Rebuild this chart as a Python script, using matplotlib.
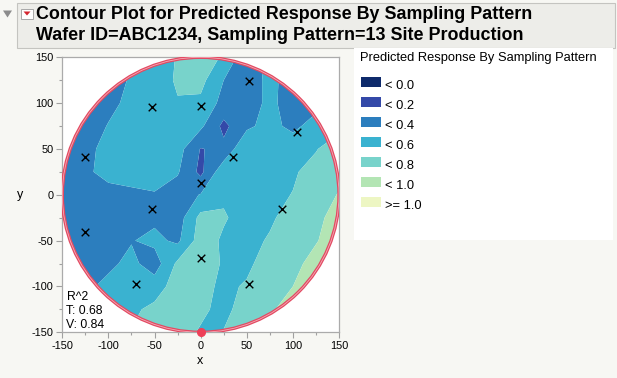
import numpy as np
import matplotlib
matplotlib.use("Agg")
import matplotlib.pyplot as plt
from matplotlib.patches import Circle, Rectangle, Polygon
from matplotlib.ticker import MultipleLocator

# ---------------- data ----------------
grid_x = [-150, -125, -100, -75, -50, -25, 0, 25, 50, 75, 100, 125, 150]
grid_y = [150, 125, 100, 75, 50, 25, 0, -25, -50, -75, -100, -125, -150]
# predicted response (rows follow grid_y, columns grid_x)
response = [
    [0.30, 0.30, 0.33, 0.42, 0.52, 0.61, 0.68, 0.58, 0.25, 0.45, 0.32, 0.35, 0.45],
    [0.28, 0.28, 0.32, 0.42, 0.52, 0.62, 0.66, 0.40, 0.28, 0.46, 0.30, 0.32, 0.45],
    [0.26, 0.28, 0.35, 0.45, 0.52, 0.59, 0.56, 0.33, 0.28, 0.46, 0.28, 0.32, 0.45],
    [0.25, 0.30, 0.41, 0.48, 0.54, 0.55, 0.44, 0.15, 0.36, 0.47, 0.34, 0.50, 0.55],
    [0.25, 0.33, 0.48, 0.54, 0.56, 0.48, 0.19, 0.25, 0.58, 0.55, 0.55, 0.59, 0.70],
    [0.25, 0.35, 0.49, 0.54, 0.52, 0.42, 0.15, 0.54, 0.56, 0.56, 0.58, 0.66, 0.75],
    [0.25, 0.27, 0.30, 0.33, 0.38, 0.30, 0.41, 0.57, 0.58, 0.56, 0.605, 0.72, 0.81],
    [0.25, 0.27, 0.30, 0.33, 0.36, 0.30, 0.66, 0.62, 0.52, 0.57, 0.68, 0.77, 0.85],
    [0.26, 0.28, 0.32, 0.39, 0.45, 0.36, 0.70, 0.57, 0.54, 0.62, 0.72, 0.79, 0.88],
    [0.27, 0.30, 0.36, 0.45, 0.30, 0.64, 0.70, 0.58, 0.56, 0.69, 0.76, 0.85, 0.92],
    [0.30, 0.36, 0.45, 0.43, 0.50, 0.70, 0.66, 0.56, 0.62, 0.72, 0.80, 0.88, 0.95],
    [0.36, 0.42, 0.50, 0.56, 0.65, 0.70, 0.64, 0.54, 0.70, 0.78, 0.86, 0.93, 0.99],
    [0.42, 0.48, 0.55, 0.61, 0.68, 0.68, 0.58, 0.61, 0.72, 0.81, 0.90, 0.98, 1.05],
]
site_x = [-125, -125, -53, 0, 52, 105, 35, 0, -53, 88, 0, -70, 52]
site_y = [41, -41, 96, 97, 124, 69, 41, 13, -15, -15, -69, -97, -97]
level_bounds = [0.0, 0.2, 0.4, 0.6, 0.8, 1.0]
level_labels = ["< 0.0", "< 0.2", "< 0.4", "< 0.6", "< 0.8", "< 1.0", ">= 1.0"]
level_colors = ["#0E2A6B", "#3449A8", "#2C7EBE", "#3AB2D0", "#78D3CB", "#B3E5B4", "#EDF6C3"]
wafer_radius = 150
r2_train = 0.68
r2_valid = 0.84
title_line1 = "Contour Plot for Predicted Response By Sampling Pattern"
title_line2 = "Wafer ID=ABC1234, Sampling Pattern=13 Site Production"
legend_title = "Predicted Response By Sampling Pattern"

# ---------------- figure ----------------
plt.rcParams['font.family'] = ['Liberation Sans', 'DejaVu Sans']
plt.rcParams['axes.unicode_minus'] = False
W, H = 617, 378
fig = plt.figure(figsize=(W / 100, H / 100), dpi=100, facecolor="#F7F7F3")

# background / decoration axes in pixel coordinates
bg = fig.add_axes([0, 0, 1, 1], zorder=0)
bg.set_xlim(0, W)
bg.set_ylim(H, 0)
bg.axis("off")

bg.add_patch(Rectangle((16.5, 2.5), 598, 45.8, facecolor="#EDEDE9", edgecolor="#C4C4C0", lw=0.8))
bg.add_patch(Polygon([(3, 10.5), (12, 10.5), (7.5, 17.5)], closed=True, color="#8C8C8C", lw=0))
bg.add_patch(Rectangle((21, 9), 12, 9.5, facecolor="white", edgecolor="#A8A8A8", lw=0.7))
bg.add_patch(Polygon([(23.5, 11.5), (30.5, 11.5), (27, 15.5)], closed=True, color="#D42630", lw=0))
bg.text(36, 19.0, title_line1, fontsize=12.9, fontweight="bold", va="baseline", ha="left")
bg.text(36, 40.0, title_line2, fontsize=12.9, fontweight="bold", va="baseline", ha="left")

# legend box
bg.add_patch(Rectangle((354, 48.3), 259, 192, facecolor="white", edgecolor="none"))
bg.text(359.5, 58.5, legend_title, fontsize=9.3, va="center", ha="left")
for i, (lab, col) in enumerate(zip(level_labels, level_colors)):
    y0 = 77.3 + 20 * i
    bg.add_patch(Rectangle((361, y0), 20, 10, facecolor=col, edgecolor="none"))
    bg.text(385, y0 + 11.5, lab, fontsize=9.3, va="baseline", ha="left")

# main axes
ax_l, ax_r, ax_t, ax_b = 62.3, 339.0, 57.3, 332.3
ax = fig.add_axes([ax_l / W, 1 - ax_b / H, (ax_r - ax_l) / W, (ax_b - ax_t) / H], zorder=1)
ax.set_facecolor("white")
X, Y = np.meshgrid(grid_x, grid_y[::-1])
Z = np.array(response)[::-1]
levels = [-10] + level_bounds + [10]
wafer = Circle((0, 0), wafer_radius, transform=ax.transData)
cs = ax.contourf(X, Y, Z, levels=levels, colors=level_colors, antialiased=True)
cs.set_clip_path(wafer)

ax.add_patch(Circle((0, 0), wafer_radius, fill=False, ec="#E24A62", lw=2.4, zorder=3))
ax.add_patch(Circle((0, 0), wafer_radius, fill=False, ec="#F4AAB6", lw=0.6, zorder=3))
ax.plot([0], [-wafer_radius], "o", color="#EE3F58", ms=5.5, zorder=4, clip_on=False)
ax.scatter(site_x, site_y, marker="x", color="black", s=30, linewidths=1.0, zorder=5)

ax.set_xlim(-150, 150)
ax.set_ylim(-150, 150)
ax.xaxis.set_major_locator(MultipleLocator(50))
ax.yaxis.set_major_locator(MultipleLocator(50))
ax.xaxis.set_minor_locator(MultipleLocator(25))
ax.yaxis.set_minor_locator(MultipleLocator(25))
ax.tick_params(which="major", length=4, width=0.8, color="#A0A0A0", labelsize=7.8, pad=2.5)
ax.tick_params(which="minor", length=2.3, width=0.8, color="#A0A0A0")
for s in ax.spines.values():
    s.set_color("#ABABAB")
    s.set_linewidth(0.9)

fig.text(200 / W, 1 - 361.5 / H, "x", fontsize=9, ha="center", va="center")
fig.text(20 / W, 1 - 194.8 / H, "y", fontsize=9, ha="center", va="center")

for j, t in enumerate(["R^2", f"T: {r2_train:.2f}", f"V: {r2_valid:.2f}"]):
    fig.text(66.5 / W, 1 - (297 + 14 * j) / H, t, fontsize=8.8, ha="left", va="center", zorder=6)

fig.savefig("out.png", dpi=100, facecolor=fig.get_facecolor())
